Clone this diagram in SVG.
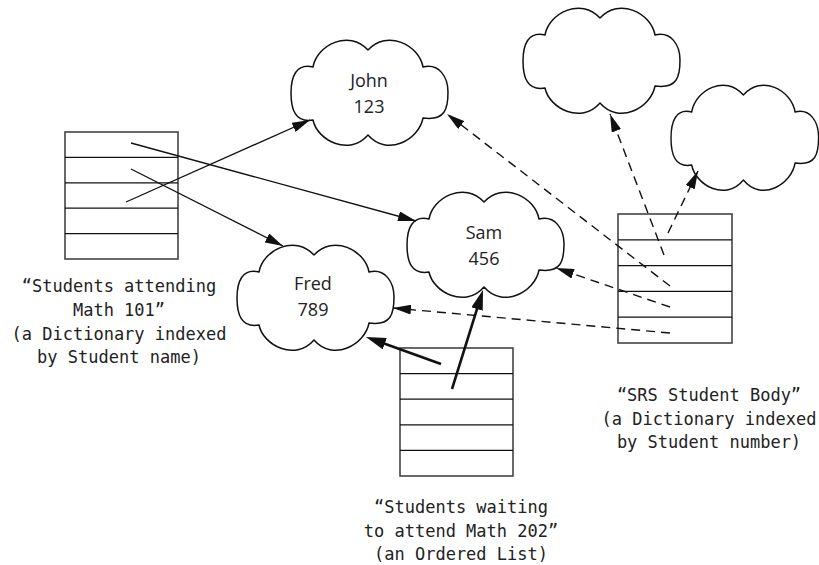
<svg xmlns="http://www.w3.org/2000/svg" xmlns:xlink="http://www.w3.org/1999/xlink" width="819" height="565" viewBox="0 0 819 565">
<style>
.cloud{fill:#fff;stroke:#111;stroke-width:1.5;stroke-linejoin:round}
.tbl{fill:#fff;stroke:#444;stroke-width:1.6}
.row{stroke:#111;stroke-width:1.3}
.ctext{font-family:"Open Sans","DejaVu Sans",sans-serif;font-size:18px;fill:#222;text-anchor:middle}
.label{font-family:"DejaVu Sans Mono","Liberation Mono",monospace;font-size:17px;fill:#222;text-anchor:middle}
.thin{stroke:#111;stroke-width:1.3;fill:none}
.dash{stroke:#111;stroke-width:1.4;fill:none;stroke-dasharray:9 6}
.thick{stroke:#111;stroke-width:2.6;fill:none}
</style>
<defs>
<path id="cloudShape" d="M22,26 C26,4 58,-12 77,9 C96,-12 128,4 132,26 C148,22 157,36 157,51 C157,68 154,80 132,77 C128,99 96,116 77,94 C58,116 26,99 22,79 C4,82 0,68 0,52 C0,36 5,22 22,26 Z"/>
<marker id="ah" markerUnits="userSpaceOnUse" markerWidth="18" markerHeight="10" refX="18" refY="5" orient="auto" viewBox="0 0 18 10">
<path d="M0,0 L18,5 L0,10 Z" fill="#111"/>
</marker>
<marker id="ahThick" markerUnits="userSpaceOnUse" markerWidth="20" markerHeight="12" refX="14" refY="6" orient="auto" viewBox="0 0 20 12">
<path d="M0,0 L20,6 L0,12 Z" fill="#111"/>
</marker>
</defs>

<g id="table-math101">
<rect class="tbl" x="65" y="132" width="113" height="127"/>
<line class="row" x1="65" y1="157.4" x2="178" y2="157.4"/>
<line class="row" x1="65" y1="182.8" x2="178" y2="182.8"/>
<line class="row" x1="65" y1="208.2" x2="178" y2="208.2"/>
<line class="row" x1="65" y1="233.6" x2="178" y2="233.6"/>
<text class="label" x="119" y="292">“Students attending</text>
<text class="label" x="119" y="316">Math 101”</text>
<text class="label" x="119" y="340">(a Dictionary indexed</text>
<text class="label" x="119" y="363">by Student name)</text>
</g>

<g id="table-srs">
<rect class="tbl" x="618" y="214" width="114" height="129"/>
<line class="row" x1="618" y1="239.8" x2="732" y2="239.8"/>
<line class="row" x1="618" y1="265.6" x2="732" y2="265.6"/>
<line class="row" x1="618" y1="291.4" x2="732" y2="291.4"/>
<line class="row" x1="618" y1="317.2" x2="732" y2="317.2"/>
<text class="label" x="709" y="401">“SRS Student Body”</text>
<text class="label" x="709" y="425">(a Dictionary indexed</text>
<text class="label" x="709" y="448">by Student number)</text>
</g>

<g id="table-math202">
<rect class="tbl" x="400" y="348" width="113" height="128"/>
<line class="row" x1="400" y1="373.6" x2="513" y2="373.6"/>
<line class="row" x1="400" y1="399.2" x2="513" y2="399.2"/>
<line class="row" x1="400" y1="424.8" x2="513" y2="424.8"/>
<line class="row" x1="400" y1="450.4" x2="513" y2="450.4"/>
<text class="label" x="461" y="513">“Students waiting</text>
<text class="label" x="461" y="537">to attend Math 202”</text>
<text class="label" x="461" y="560">(an Ordered List)</text>
</g>

<g id="cloud-john">
<use xlink:href="#cloudShape" class="cloud" transform="translate(291,41)"/>
<text class="ctext" x="369" y="87">John</text>
<text class="ctext" x="369" y="113">123</text>
</g>
<g id="cloud-sam">
<use xlink:href="#cloudShape" class="cloud" transform="translate(407,193)"/>
<text class="ctext" x="484" y="239">Sam</text>
<text class="ctext" x="484" y="265">456</text>
</g>
<g id="cloud-fred">
<use xlink:href="#cloudShape" class="cloud" transform="translate(237,246)"/>
<text class="ctext" x="313" y="290">Fred</text>
<text class="ctext" x="313" y="316">789</text>
</g>
<g id="cloud-a">
<use xlink:href="#cloudShape" class="cloud" transform="translate(523,9)"/>
</g>
<g id="cloud-b">
<use xlink:href="#cloudShape" class="cloud" transform="translate(671,86) scale(0.94,1)"/>
</g>

<g id="connectors">
<line class="thin" x1="126" y1="202" x2="310" y2="120" marker-end="url(#ah)"/>
<line class="thin" x1="131" y1="143" x2="416" y2="221" marker-end="url(#ah)"/>
<line class="thin" x1="131" y1="169" x2="283" y2="246" marker-end="url(#ah)"/>
<line class="thick" x1="441" y1="364" x2="371.6" y2="339" marker-end="url(#ahThick)"/>
<line class="thick" x1="452" y1="389" x2="481.2" y2="295.7" marker-end="url(#ahThick)"/>
<line class="dash" x1="670" y1="286" x2="447" y2="114" marker-end="url(#ah)"/>
<line class="dash" x1="670" y1="307" x2="556" y2="268" marker-end="url(#ah)"/>
<line class="dash" x1="670" y1="333" x2="393" y2="308" marker-end="url(#ah)"/>
<line class="dash" x1="664" y1="255" x2="610" y2="114" marker-end="url(#ah)"/>
<line class="dash" x1="668" y1="233" x2="698" y2="171" marker-end="url(#ah)"/>
</g>
</svg>
